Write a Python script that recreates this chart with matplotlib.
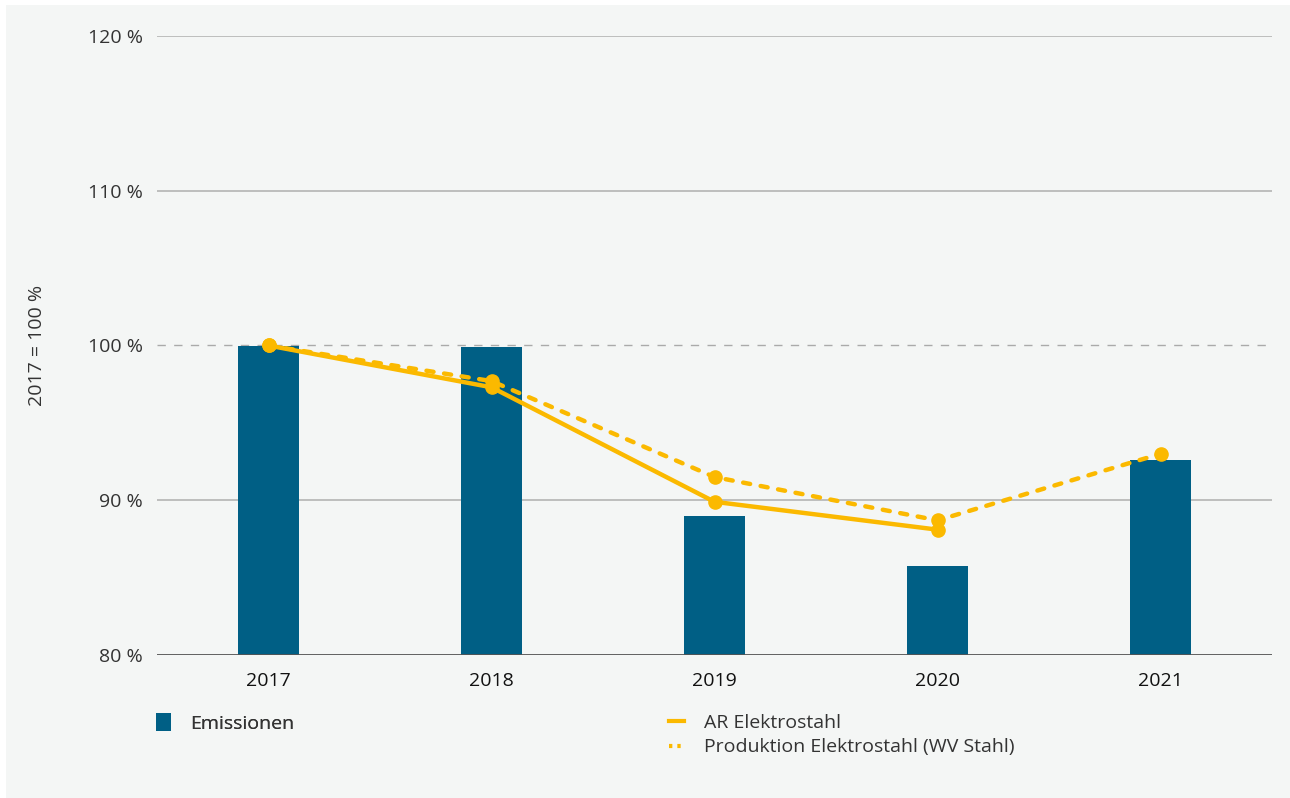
import matplotlib
matplotlib.use("Agg")
import matplotlib.pyplot as plt
from matplotlib.patches import Rectangle
from matplotlib.lines import Line2D
import numpy as np

plt.rcParams['font.family'] = ['Open Sans', 'DejaVu Sans']

# data (2017 = 100 %)
years = ['2017', '2018', '2019', '2020', '2021']
emissionen = [100.0, 99.9, 89.0, 85.75, 92.6]
ar_elektrostahl = [100.0, 97.3, 89.9, 88.1, np.nan]
produktion = [100.0, 97.7, 91.5, 88.7, 93.0]
yticks = [80, 90, 100, 110, 120]
ytick_labels = ['80 %', '90 %', '100 %', '110 %', '120 %']

blue = '#005f85'
yellow = '#fbb900'
bg = '#f4f6f5'

fig = plt.figure(figsize=(12.9, 7.98), dpi=100, facecolor='white')
fig.patches.append(Rectangle((6 / 1290, 0), 1, 1 - 5 / 798, transform=fig.transFigure,
                             facecolor=bg, edgecolor='none', zorder=-10))

ax = fig.add_axes([157 / 1290, 1 - 655 / 798, (1272 - 157) / 1290, (655 - 36) / 798])
ax.set_facecolor('none')

x = np.arange(len(years))
ax.bar(x, [v - 80 for v in emissionen], bottom=80, width=0.27, color=blue, zorder=2)

ax.plot(x, ar_elektrostahl, color=yellow, lw=3.2, marker='o', ms=9.5, zorder=4,
        solid_capstyle='round')
dl, = ax.plot(x, produktion, color=yellow, lw=3.2, marker='o', ms=9.5, zorder=3,
              dash_capstyle='round')
dl.set_dashes((1.6, 2.4))

# grid
for t in yticks:
    if t == 100:
        ax.axhline(t, color='#aaaaaa', lw=1, ls=(0, (6, 6)), zorder=1)
    elif t == 80:
        ax.axhline(t, color='#555555', lw=1.3, zorder=5)
    else:
        ax.axhline(t, color='#b4b4b4', lw=1.2, zorder=1)

ax.set_xlim(-0.5, 4.5)
ax.set_ylim(80, 120)
ax.set_yticks(yticks)
ax.set_yticklabels(ytick_labels)
ax.set_xticks(x)
ax.set_xticklabels(years)
for s in ax.spines.values():
    s.set_visible(False)
ax.tick_params(axis='y', length=0, pad=10, labelsize=14, labelcolor='#333333')
ax.tick_params(axis='x', length=0, pad=12, labelsize=14, labelcolor='#111111')
ax.set_ylabel('2017 = 100 %', fontsize=14, color='#333333')
ax.yaxis.set_label_coords(-0.1, 0.5)

h1 = [Rectangle((0, 0), 1, 1, facecolor=blue)]
leg1 = fig.legend(h1, ['Emissionen'], loc='upper left',
                  bbox_to_anchor=(138 / 1290, 1 - 696 / 798), frameon=False,
                  fontsize=14, labelcolor='#333333', handlelength=0.8, handleheight=1.0,
                  handletextpad=1.0)
h2 = [Line2D([], [], color=yellow, lw=3),
      Line2D([], [], color=yellow, lw=3, ls=(0, (0.8, 1.2)))]
leg2 = fig.legend(h2, ['AR Elektrostahl', 'Produktion Elektrostahl (WV Stahl)'],
                  loc='upper left', bbox_to_anchor=(651 / 1290, 1 - 696 / 798),
                  frameon=False, fontsize=14, labelcolor='#333333',
                  handlelength=0.8, handletextpad=1.0, labelspacing=0.35)
fig.add_artist(leg1)

fig.savefig('out.png', dpi=100, facecolor=fig.get_facecolor())
